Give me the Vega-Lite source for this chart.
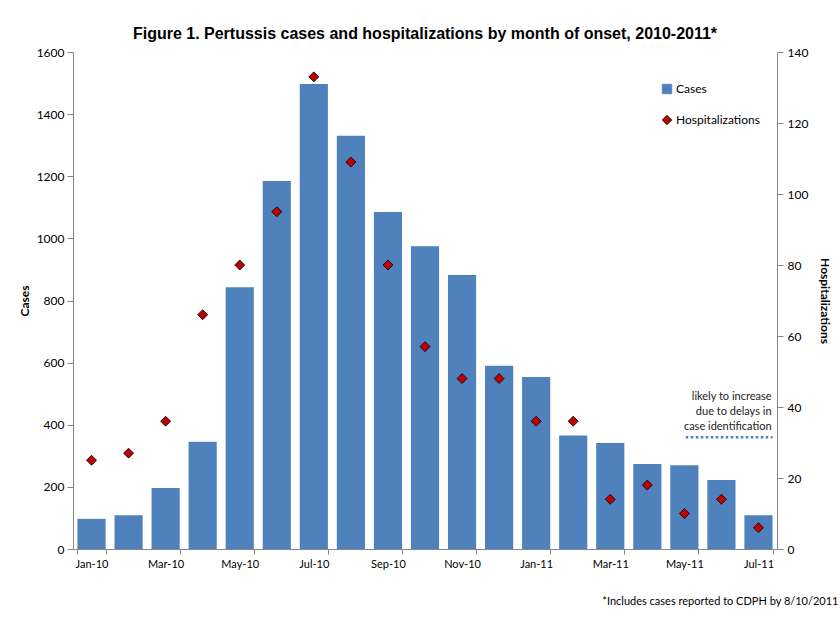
{
  "$schema": "https://vega.github.io/schema/vega-lite/v6.json",
  "width": 704,
  "height": 497,
  "padding": {"left": 18, "top": 26, "right": 4, "bottom": 4},
  "background": "white",
  "title": {
    "text": "Figure 1. Pertussis cases and hospitalizations by month of onset, 2010-2011*",
    "font": "Liberation Sans",
    "fontSize": 16,
    "fontWeight": "bold",
    "color": "black",
    "offset": 4,
    "anchor": "middle"
  },
  "config": {
    "view": {"stroke": null},
    "axis": {
      "labelFont": "Lato",
      "labelFontSize": 12,
      "labelColor": "black",
      "titleFont": "Lato",
      "titleFontSize": 12,
      "titleColor": "black",
      "domainColor": "#868686",
      "tickColor": "#868686",
      "grid": false
    }
  },
  "data": {
    "values": [
      {"month": "Jan-10", "cases": 97, "hosp": 25},
      {"month": "Feb-10", "cases": 109, "hosp": 27},
      {"month": "Mar-10", "cases": 196, "hosp": 36},
      {"month": "Apr-10", "cases": 345, "hosp": 66},
      {"month": "May-10", "cases": 843, "hosp": 80},
      {"month": "Jun-10", "cases": 1185, "hosp": 95},
      {"month": "Jul-10", "cases": 1497, "hosp": 133},
      {"month": "Aug-10", "cases": 1330, "hosp": 109},
      {"month": "Sep-10", "cases": 1085, "hosp": 80},
      {"month": "Oct-10", "cases": 975, "hosp": 57},
      {"month": "Nov-10", "cases": 882, "hosp": 48},
      {"month": "Dec-10", "cases": 590, "hosp": 48},
      {"month": "Jan-11", "cases": 554, "hosp": 36},
      {"month": "Feb-11", "cases": 365, "hosp": 36},
      {"month": "Mar-11", "cases": 341, "hosp": 14},
      {"month": "Apr-11", "cases": 274, "hosp": 18},
      {"month": "May-11", "cases": 270, "hosp": 10},
      {"month": "Jun-11", "cases": 222, "hosp": 14},
      {"month": "Jul-11", "cases": 109, "hosp": 6}
    ]
  },
  "encoding": {
    "x": {
      "field": "month",
      "type": "ordinal",
      "sort": null,
      "scale": {"paddingInner": 0.24, "paddingOuter": 0.12},
      "axis": {
        "values": ["Jan-10", "Mar-10", "May-10", "Jul-10", "Sep-10", "Nov-10", "Jan-11", "Mar-11", "May-11", "Jul-11"],
        "labelAngle": 0,
        "labelFontSize": 11,
        "tickBand": "extent",
        "tickSize": 5,
        "labelPadding": 4,
        "title": "*Includes cases reported to CDPH by 8/10/2011",
        "titleFontWeight": "normal",
        "titleFontSize": 11,
        "titleAlign": "right",
        "titleAnchor": "end",
        "titleX": 765,
        "titleY": 46
      }
    }
  },
  "layer": [
    {
      "mark": {"type": "bar", "color": "#4F81BD"},
      "encoding": {
        "y": {
          "field": "cases",
          "type": "quantitative",
          "scale": {"domain": [0, 1600]},
          "axis": {
            "orient": "left",
            "values": [0, 200, 400, 600, 800, 1000, 1200, 1400, 1600],
            "format": "d",
            "title": "Cases",
            "titleFontWeight": "bold",
            "tickSize": 6,
            "labelPadding": 3,
            "titlePadding": 5
          }
        },
        "color": {
          "datum": "Cases",
          "type": "nominal",
          "scale": {"domain": ["Cases", "Hospitalizations"], "range": ["#4F81BD", "#C00000"]},
          "legend": {
            "title": null,
            "orient": "none",
            "legendX": 588,
            "legendY": 31,
            "labelFont": "Lato",
            "labelFontSize": 12,
            "labelColor": "black",
            "rowPadding": 17,
            "symbolSize": 90,
            "labelOffset": 3,
            "encode": {
              "symbols": {
                "update": {
                  "shape": {"signal": "datum.value == 'Cases' ? 'square' : 'diamond'"},
                  "stroke": {"signal": "datum.value == 'Cases' ? '#4F81BD' : 'black'"},
                  "strokeWidth": {"value": 0.8}
                }
              }
            }
          }
        }
      }
    },
    {
      "layer": [
        {
          "mark": {"type": "point", "filled": true, "shape": "diamond", "stroke": "black", "strokeWidth": 0.8, "size": 100, "opacity": 1},
          "encoding": {
            "y": {
              "field": "hosp",
              "type": "quantitative",
              "scale": {"domain": [0, 140]},
              "axis": {
                "orient": "right",
                "values": [0, 20, 40, 60, 80, 100, 120, 140],
                "title": "Hospitalizations",
                "titleFontWeight": "bold",
                "tickSize": 6,
                "labelPadding": 4,
                "titlePadding": 10
              }
            },
            "color": {"datum": "Hospitalizations", "type": "nominal"}
          }
        },
        {
          "data": {"values": [{"from": "May-11", "to": "Jul-11", "level": 31.5}]},
          "mark": {"type": "rule", "color": "#4F81BD", "strokeWidth": 2.5, "strokeDash": [2.5, 2.5]},
          "encoding": {
            "x": {"field": "from", "type": "ordinal", "bandPosition": 0.55},
            "x2": {"field": "to", "bandPosition": 1},
            "y": {"field": "level", "type": "quantitative", "title": "Hospitalizations"}
          }
        },
        {
          "data": {"values": [{"at": "Jul-11", "level": 42.8, "note": ["likely to increase", "due to delays in", "case identification"]}]},
          "mark": {
            "type": "text",
            "align": "right",
            "baseline": "middle",
            "font": "Lato",
            "fontSize": 11,
            "color": "#222222",
            "lineHeight": 15,
            "dx": -1
          },
          "encoding": {
            "x": {"field": "at", "type": "ordinal", "bandPosition": 1},
            "y": {"field": "level", "type": "quantitative", "title": "Hospitalizations"},
            "text": {"field": "note"}
          }
        }
      ]
    }
  ],
  "resolve": {"scale": {"y": "independent"}}
}
